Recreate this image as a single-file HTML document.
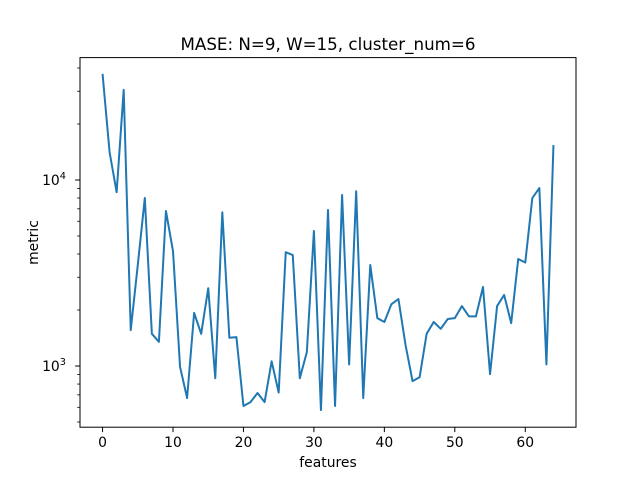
<!DOCTYPE html>
<html><head><meta charset="utf-8"><style>
body{margin:0;background:#fff;}
svg{display:block;font-family:"DejaVu Sans","Liberation Sans",sans-serif;}
</style></head><body>
<svg id="chart" width="640" height="480" viewBox="0 0 640 480" xmlns="http://www.w3.org/2000/svg">
<rect width="640" height="480" fill="#fff"/>
<text x="328" y="50" text-anchor="middle" font-size="16.7">MASE: N=9, W=15, cluster_num=6</text>
<text x="328" y="467" text-anchor="middle" font-size="13.9">features</text>
<text transform="translate(38,242.5) rotate(-90)" text-anchor="middle" font-size="13.9">metric</text>
<g id="ticks"></g>
<polyline id="series" fill="none" stroke="#1f77b4" stroke-width="2" stroke-linejoin="round"/>
<rect x="80" y="57.6" width="496" height="369.6" fill="none" stroke="#000" stroke-width="1"/>
</svg>
<script>
const values = [37200,14100,8600,30500,1560,3490,8000,1490,1350,6810,4150,990,673,1930,1490,2620,860,6700,1420,1430,610,640,716,640,1060,720,4090,3950,860,1190,5320,580,6900,610,8300,1020,8700,673,3490,1810,1725,2150,2290,1300,830,870,1490,1725,1585,1790,1810,2100,1850,1850,2660,905,2100,2410,1700,3760,3600,8000,9050,1020,15400];
const xTicks = [0,10,20,30,40,50,60];
const yMajor = [1000,10000];
const yMajorLabels = ["10","10"];
const yMajorExp = ["3","4"];
const L=80,R=576,T=57.6,B=427.2;
const xmin=-3.2,xmax=67.2;
const lmin=Math.log10(469),lmax=Math.log10(45500);
const sx=v=>L+(v-xmin)/(xmax-xmin)*(R-L);
const sy=v=>B-(Math.log10(v)-lmin)/(lmax-lmin)*(B-T);
const NS="http://www.w3.org/2000/svg";
const g=document.getElementById('ticks');
function el(tag,attrs){const e=document.createElementNS(NS,tag);for(const k in attrs)e.setAttribute(k,attrs[k]);g.appendChild(e);return e;}
xTicks.forEach(t=>{
  const x=sx(t);
  const l=el('line',{x1:x,x2:x,y1:B,y2:B+4.9,stroke:'#000','stroke-width':1});
  
  
  const tx=el('text',{x:x,y:B+20,'text-anchor':'middle','font-size':13.9});
  
  
  tx.textContent=t;
});
yMajor.forEach((v,i)=>{
  const y=sy(v);
  const l=el('line',{x1:L-4.9,x2:L,y1:y,y2:y,stroke:'#000','stroke-width':1});
  
  
  const tx=el('text',{x:L-26,y:y+5,'text-anchor':'middle','font-size':13.9});
  
  
  tx.textContent=yMajorLabels[i];
  const sp=document.createElementNS(NS,'tspan');
  sp.setAttribute('font-size','9.7');sp.setAttribute('dy','-6');
  sp.textContent=yMajorExp[i];
  tx.appendChild(sp);
});
for(let d=100;d<=10000;d*=10){for(let m=2;m<=9;m++){const v=d*m;const lv=Math.log10(v);if(lv<lmin||lv>lmax)continue;const y=sy(v);
  const l=el('line',{x1:L-2.8,x2:L,y1:y,y2:y,stroke:'#000','stroke-width':0.8});
  
  
}}
document.getElementById('series').setAttribute('points',values.map((v,i)=>sx(i).toFixed(2)+','+sy(v).toFixed(2)).join(' '));
</script>
</body></html>
